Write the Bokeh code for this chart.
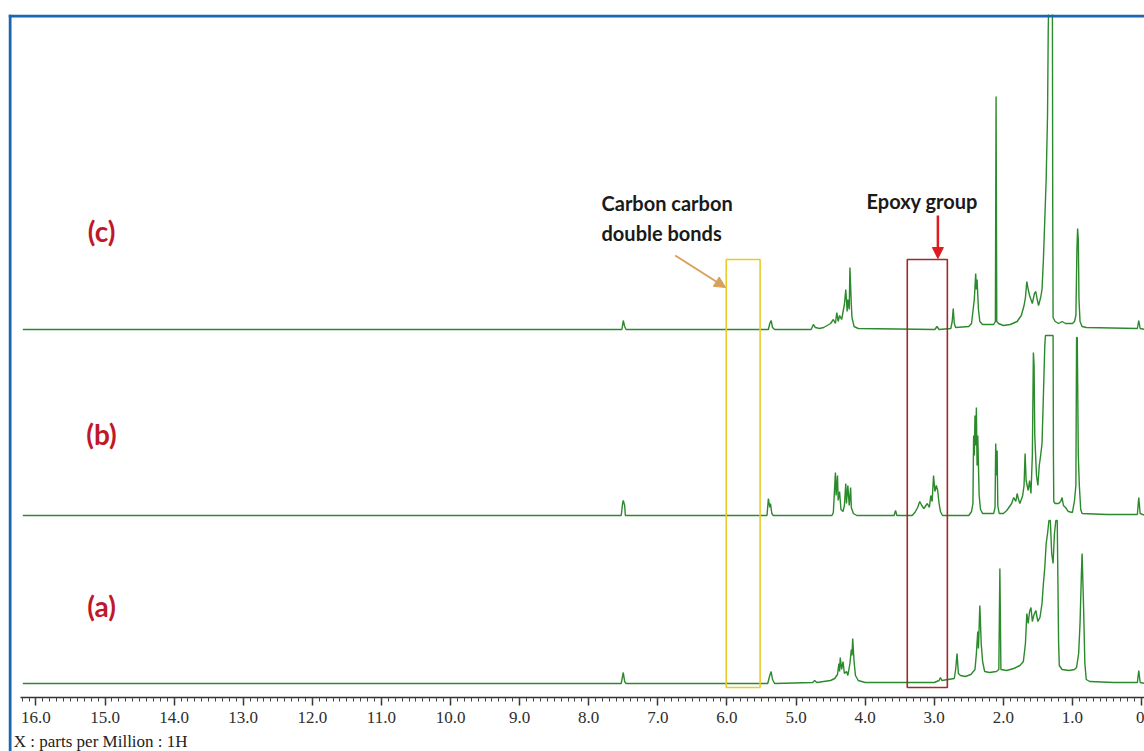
import numpy as np
from bokeh.plotting import figure
from bokeh.models import Range1d, FixedTicker, Label, Arrow, NormalHead, Span
from bokeh.embed import file_html
from bokeh.resources import INLINE

# ---------------- data ----------------
# chemical shift (ppm) and intensity (arbitrary units) for each spectrum
A_PPM = [16.19, 7.53, 7.50, 7.48, 7.46,
         5.41, 5.38, 5.36, 5.34, 5.31,
         4.76, 4.73, 4.70, 4.60, 4.50, 4.44, 4.40, 4.38, 4.37, 4.36, 4.34, 4.32, 4.30, 4.27, 4.25, 4.22, 4.20, 4.19, 4.18, 4.16, 4.14, 4.10, 4.00,
         3.50, 3.00, 2.93, 2.91, 2.89, 2.80,
         2.71, 2.69, 2.67, 2.65, 2.62,
         2.55, 2.47, 2.41, 2.39, 2.37, 2.36, 2.34, 2.32, 2.30, 2.27,
         2.20, 2.10, 2.065, 2.05, 2.035,
         1.95, 1.85, 1.76, 1.71, 1.68, 1.66, 1.64, 1.62, 1.60, 1.58, 1.56, 1.53, 1.50, 1.47, 1.44, 1.42, 1.40, 1.38, 1.36, 1.34, 1.32, 1.30, 1.28, 1.26, 1.24, 1.22, 1.20, 1.19, 1.15, 1.05, 0.97,
         0.94, 0.91, 0.89, 0.87, 0.86, 0.84, 0.82, 0.80, 0.75,
         0.40, 0.06, 0.04, 0.02, -0.05]
A_INT = [0, 0, 11, 2, 0,
         0, 8, 12, 4, 0,
         1, 3, 1, 2, 3, 5, 9, 20, 12, 26, 14, 22, 10, 12, 8, 20, 34, 28, 45, 22, 8, 3, 1,
         1, 1, 3, 6, 3, 4,
         5, 14, 30, 10, 8,
         7, 9, 14, 30, 52, 35, 78, 40, 22, 12,
         11, 12, 14, 115, 14,
         13, 15, 18, 22, 40, 70, 60, 72, 76, 62, 68, 73, 62, 66, 80, 100, 116, 140, 150, 163, 163, 130, 120, 150, 163, 163, 40, 18, 14, 13, 14,
         16, 30, 60, 110, 130, 80, 20, 4, 2,
         1, 1, 13, 1, 0]

B_PPM = [16.19, 7.53, 7.51, 7.50, 7.48, 7.47,
         5.42, 5.40, 5.38, 5.37, 5.35, 5.33,
         4.48, 4.46, 4.44, 4.43, 4.42, 4.40, 4.39, 4.37, 4.35, 4.32, 4.30, 4.28, 4.27, 4.25, 4.23, 4.21, 4.20, 4.17, 4.12,
         3.58, 3.56, 3.54,
         3.32, 3.28, 3.24, 3.21, 3.18, 3.15, 3.12, 3.10, 3.07, 3.05, 3.03, 3.01, 2.99, 2.97, 2.95, 2.93, 2.91, 2.88,
         2.50, 2.46, 2.44, 2.43, 2.42, 2.41, 2.40, 2.39, 2.38, 2.37, 2.35, 2.33, 2.30,
         2.14, 2.12, 2.11, 2.10, 2.09, 2.08, 2.06,
         2.00, 1.95, 1.92, 1.88, 1.85, 1.82, 1.80, 1.78, 1.76,
         1.72, 1.70, 1.685, 1.67, 1.64, 1.62, 1.60, 1.58, 1.565, 1.555, 1.545, 1.52, 1.50, 1.48, 1.46, 1.44, 1.42, 1.40, 1.39, 1.28, 1.275, 1.27,
         1.25, 1.20, 1.17, 1.15, 1.13, 1.10, 1.06, 1.00,
         0.97, 0.95, 0.94, 0.93, 0.915, 0.90, 0.88, 0.86,
         0.50, 0.06, 0.04, 0.02, -0.05]
B_INT = [0, 0, 12, 15, 10, 0,
         0, 17, 8, 12, 2, 0,
         0, 3, 30, 43, 20, 40, 15, 24, 6, 4, 10, 32, 12, 30, 10, 28, 8, 2, 0,
         0, 5, 0,
         0, 3, 8, 14, 10, 7, 10, 12, 8, 20, 14, 40, 24, 30, 25, 12, 4, 0,
         0, 4, 12, 80, 60, 100, 70, 108, 50, 80, 20, 6, 2,
         2, 8, 72, 40, 65, 10, 2,
         2, 5, 8, 12, 18, 14, 22, 16, 12,
         20, 30, 62, 35, 25, 35, 22, 60, 163, 150, 80, 40, 30, 50, 60, 72, 120, 170, 180, 180, 60, 14,
         12, 12, 14, 18, 10, 8, 4, 3,
         15, 30, 178, 178, 60, 30, 6, 2,
         1, 1, 18, 2, 0]

C_PPM = [16.19, 7.52, 7.50, 7.48, 7.46,
         5.40, 5.38, 5.36, 5.34, 5.31,
         4.78, 4.75, 4.72, 4.66,
         4.60, 4.55, 4.50, 4.46, 4.43, 4.41, 4.39, 4.37, 4.34, 4.30, 4.28, 4.26, 4.25, 4.23, 4.22, 4.20, 4.19, 4.16, 4.10,
         2.99, 2.96, 2.93,
         2.76, 2.74, 2.725, 2.71, 2.69,
         2.50, 2.46, 2.44, 2.42, 2.40, 2.39, 2.38, 2.36, 2.34, 2.30,
         2.14, 2.115, 2.105, 2.095, 2.07,
         2.00, 1.90, 1.80, 1.74, 1.70, 1.68, 1.66, 1.64, 1.62, 1.60, 1.58, 1.55, 1.53, 1.51, 1.49, 1.46, 1.44, 1.42, 1.40, 1.38, 1.36, 1.35, 1.34, 1.29, 1.285, 1.28, 1.25, 1.20, 1.15, 1.10, 1.03,
         1.00, 0.97, 0.95, 0.935, 0.925, 0.915, 0.905, 0.89, 0.86, 0.80,
         0.06, 0.04, 0.02, -0.05]
C_INT = [0, 0, 9, 3, 0,
         0, 6, 9, 2, 0,
         0, 5, 2, 1,
         2, 4, 6, 10, 6, 17, 8, 14, 10, 25, 40, 18, 30, 20, 62, 25, 12, 3, 1,
         0, 3, 0,
         1, 8, 21, 6, 2,
         3, 6, 18, 30, 56, 40, 50, 20, 8, 5,
         5, 8, 233, 8, 6,
         4, 5, 8, 14, 24, 32, 48, 40, 34, 30, 26, 36, 38, 30, 24, 32, 40, 70, 110, 150, 215, 300, 340, 340, 120, 12, 8, 6, 8, 6, 6,
         6, 8, 14, 80, 101, 90, 30, 8, 3, 2,
         1, 9, 1, 0]

SPECTRA = ["(a)", "(b)", "(c)"]
TICK_VALUES = [16, 15, 14, 13, 12, 11, 10, 9, 8, 7, 6, 5, 4, 3, 2, 1, 0]
TICK_LABELS = ["16.0", "15.0", "14.0", "13.0", "12.0", "11.0", "10.0", "9.0", "8.0",
               "7.0", "6.0", "5.0", "4.0", "3.0", "2.0", "1.0", "0"]

# annotated regions (ppm)
CC_REGION = (5.52, 6.01)      # carbon carbon double bonds
EPOXY_REGION = (2.81, 3.39)   # epoxy group

# ---------------- layout / style ----------------
OFFSETS = {"(a)": 14, "(b)": 182, "(c)": 368}
GREEN = "#2b8a2b"
BLUE = "#1a66b3"

p = figure(width=1144, height=751, output_backend="svg", toolbar_location=None,
           x_range=Range1d(16.397, -0.043), y_range=Range1d(-54, 683),
           y_axis_location=None, min_border_left=8, min_border_right=0,
           min_border_top=14, min_border_bottom=0)
p.grid.visible = False
p.outline_line_color = None
p.background_fill_color = "white"
p.border_fill_color = "white"

for name, ppm, inten in [("(a)", A_PPM, A_INT), ("(b)", B_PPM, B_INT), ("(c)", C_PPM, C_INT)]:
    y = np.array(inten, dtype=float) + OFFSETS[name]
    p.line(ppm, y, line_color=GREEN, line_width=1.4)

# boxes
p.quad(left=[CC_REGION[0]], right=[CC_REGION[1]], bottom=[10], top=[438],
       fill_color=None, line_color="#e9cc2a", line_width=1.6)
p.quad(left=[EPOXY_REGION[0]], right=[EPOXY_REGION[1]], bottom=[10], top=[438],
       fill_color=None, line_color="#9e2a2b", line_width=1.6)

# arrows
p.add_layout(Arrow(end=NormalHead(size=11, fill_color="#d9a05b", line_color="#d9a05b"),
                   x_start=6.748, y_start=442, x_end=6.02, y_end=410,
                   line_color="#d9a05b", line_width=2))
p.add_layout(Arrow(end=NormalHead(size=11, fill_color="#e01b22", line_color="#e01b22"),
                   x_start=2.947, y_start=482, x_end=2.947, y_end=439,
                   line_color="#e01b22", line_width=2.5))

# annotation texts
for txt, x, y in [("Carbon carbon", 7.815, 495), ("double bonds", 7.815, 465), ("Epoxy group", 3.98, 497)]:
    p.add_layout(Label(x=x, y=y, text=txt, text_font="Lato", text_font_style="bold",
                       text_font_size="20px", text_color="#1a1a1a",
                       text_align="left", text_baseline="middle"))

LABEL_Y = {"(a)": 92, "(b)": 264, "(c)": 467}
for name in SPECTRA:
    p.add_layout(Label(x=15.05, y=LABEL_Y[name], text=name, text_font="Lato",
                       text_font_style="bold", text_font_size="28px", text_color="#c0182a",
                       text_align="center", text_baseline="middle"))

# blue window frame
p.add_layout(Span(location=16.375, dimension="height", line_color=BLUE, line_width=3))
p.add_layout(Span(location=681.5, dimension="width", line_color=BLUE, line_width=3))

# x axis (ruler)
ax = p.xaxis[0]
ax.fixed_location = 0
ax.bounds = (-0.05, 16.22)
minor = [float(v) for v in np.round(np.arange(0, 16.21, 0.1), 1)]
ax.ticker = FixedTicker(ticks=TICK_VALUES, minor_ticks=minor)
ax.major_label_overrides = {float(v): l for v, l in zip(TICK_VALUES, TICK_LABELS)}
ax.axis_line_color = "#333333"
ax.axis_line_width = 1.5
ax.major_tick_line_color = "#333333"
ax.major_tick_line_width = 1.5
ax.minor_tick_line_color = "#444444"
ax.major_tick_out = 8
ax.major_tick_in = 0
ax.minor_tick_out = 4
ax.minor_tick_in = 0
ax.major_label_standoff = 6
ax.major_label_text_font = "Liberation Serif"
ax.major_label_text_font_size = "17px"
ax.major_label_text_color = "#2e2e2e"

p.add_layout(Label(x=16.32, y=-44, text="X : parts per Million : 1H",
                   text_font="Liberation Serif", text_font_size="17px",
                   text_color="#222222", text_align="left", text_baseline="middle"))

open("out.html", "w").write(file_html(p, INLINE))
